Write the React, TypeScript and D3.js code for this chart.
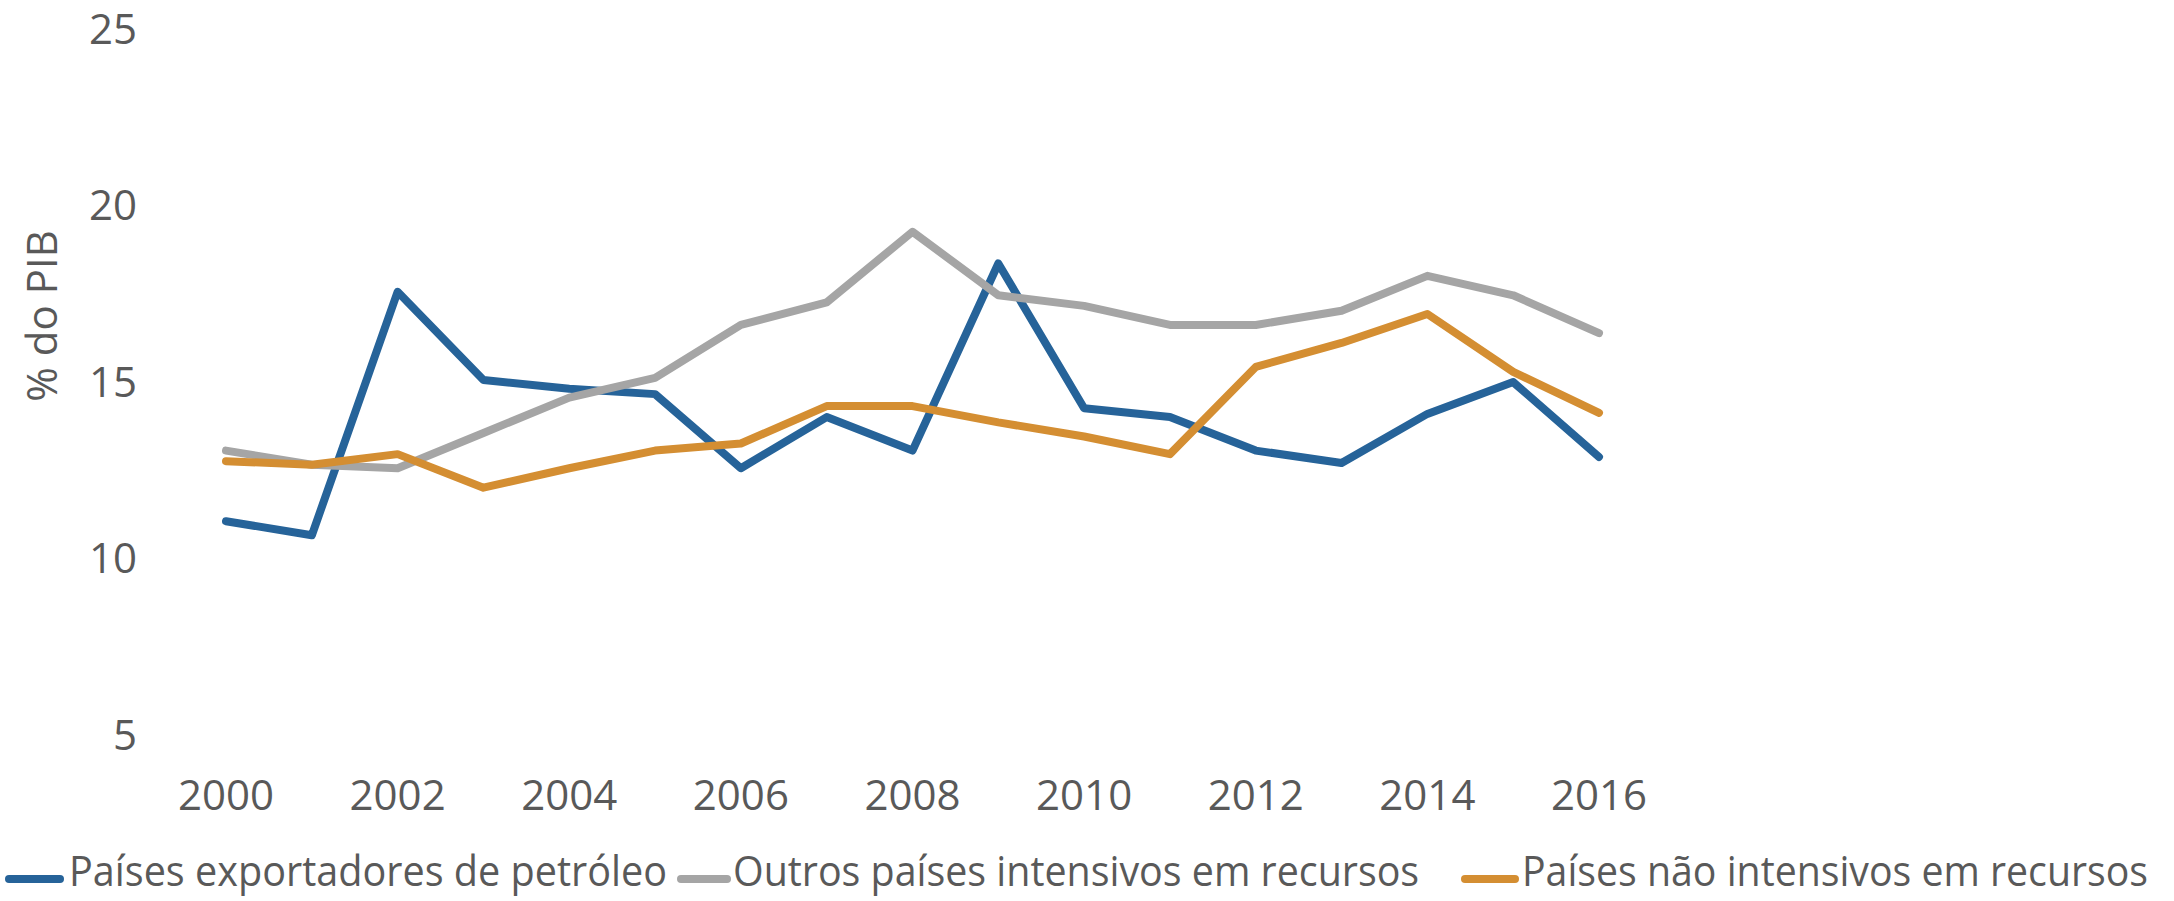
import React, { useLayoutEffect, useRef, useState } from "react";
import * as d3 from "d3";

const years = [2000, 2001, 2002, 2003, 2004, 2005, 2006, 2007, 2008, 2009, 2010, 2011, 2012, 2013, 2014, 2015, 2016];
const petroleo = [11.0, 10.6, 17.5, 15.0, 14.75, 14.6, 12.5, 13.95, 13.0, 18.3, 14.2, 13.95, 13.0, 12.65, 14.04, 14.94, 12.82];
const outros = [13.0, 12.6, 12.5, 13.5, 14.5, 15.06, 16.56, 17.2, 19.2, 17.4, 17.1, 16.56, 16.56, 16.96, 17.95, 17.4, 16.33];
const naoIntensivos = [12.7, 12.6, 12.9, 11.95, 12.5, 13.0, 13.2, 14.26, 14.26, 13.8, 13.4, 12.9, 15.37, 16.05, 16.87, 15.23, 14.07];
const yTicks = [5, 10, 15, 20, 25];
const xTicks = [2000, 2002, 2004, 2006, 2008, 2010, 2012, 2014, 2016];
const seriesNames = ["Países exportadores de petróleo", "Outros países intensivos em recursos", "Países não intensivos em recursos"];
const seriesColors = ["#266399", "#A5A5A5", "#D48E32"];

export default function App() {
  const W = 2174, H = 901;
  const x = d3.scaleLinear().domain([2000, 2016]).range([226, 1599]);
  const y = d3.scaleLinear().domain([5, 25]).range([733, 27]);
  const line = d3.line<number>().x((_, i) => x(years[i])).y((d) => y(d));
  const allSeries = [petroleo, outros, naoIntensivos];
  const font = "'Segoe UI', 'Open Sans', sans-serif";
  const textColor = "#595959";
  const legend = [
    { lx1: 9, lx2: 60, tx: 69, tw: 598 },
    { lx1: 681, lx2: 727, tx: 733, tw: 686 },
    { lx1: 1465, lx2: 1515, tx: 1522, tw: 626 },
  ];
  const refs = useRef<(SVGTextElement | null)[]>([]);
  const [scales, setScales] = useState<number[]>([0.8, 0.8, 0.8]);
  useLayoutEffect(() => {
    const s = legend.map((l, i) => {
      const el = refs.current[i];
      const len = el ? el.getComputedTextLength() : 0;
      return len > 0 ? l.tw / len : 0.8;
    });
    setScales(s);
  }, []);
  return (
    <svg width={W} height={H} style={{ position: "absolute", left: 0, top: 0, background: "#fff" }} fontFamily={font}>
      <rect width={W} height={H} fill="#fff" />
      {yTicks.map((t) => (
        <text key={t} x={137} y={y(t)} textAnchor="end" dominantBaseline="central" fontSize={42} fill={textColor}>
          {t}
        </text>
      ))}
      {xTicks.map((t) => (
        <text key={t} x={x(t)} y={793} textAnchor="middle" dominantBaseline="central" fontSize={42} fill={textColor}>
          {t}
        </text>
      ))}
      <text transform="translate(57,316) rotate(-90)" textAnchor="middle" fontSize={42} fill={textColor}>
        % do PIB
      </text>
      {allSeries.map((s, i) => (
        <path key={i} d={line(s) || ""} fill="none" stroke={seriesColors[i]} strokeWidth={8} strokeLinejoin="round" strokeLinecap="round" />
      ))}
      {legend.map((l, i) => (
        <g key={i}>
          <line x1={l.lx1} x2={l.lx2} y1={879} y2={879} stroke={seriesColors[i]} strokeWidth={8} strokeLinecap="round" />
          <g transform={`translate(${l.tx},886) scale(${scales[i]},1)`}>
            <text
              ref={(el) => {
                refs.current[i] = el;
              }}
              x={0}
              y={0}
              fontSize={42}
              fill={textColor}
            >
              {seriesNames[i]}
            </text>
          </g>
        </g>
      ))}
    </svg>
  );
}
